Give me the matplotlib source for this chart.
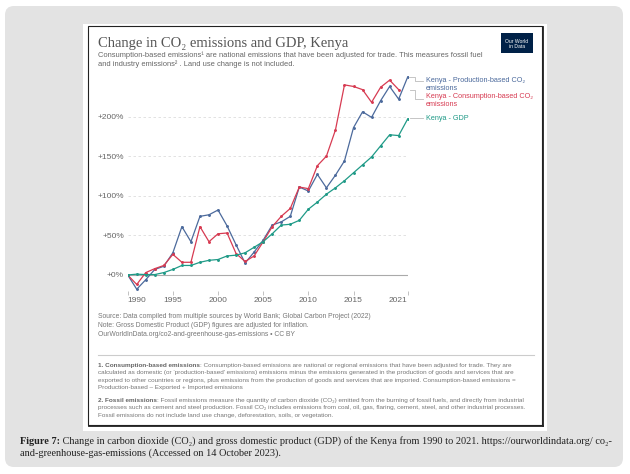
#!/usr/bin/env python3
import matplotlib

matplotlib.use("Agg")
import matplotlib.pyplot as plt
from matplotlib.patches import FancyBboxPatch, Rectangle

years = list(range(1990, 2022))

# percent change since 1990
production = [0, -18, -6, 7, 11, 28, 61, 42, 74, 76, 82, 62, 38, 15, 29, 44,
              63, 67, 74, 111, 106, 127, 110, 126, 144, 186, 206, 199, 220,
              238, 222, 250]
consumption = [0, -12, 3, 8, 12, 26, 16, 16, 61, 42, 52, 53, 27, 17, 24, 42,
               61, 74, 84, 111, 109, 138, 150, 183, 240, 238, 234, 218, 237,
               246, 234]
gdp = [0, 1, 0.5, 0.5, 3, 7, 12, 12, 16, 18.5, 19.5, 24, 25, 28, 35, 42, 52,
       63, 64, 69, 83, 92, 102, 110, 119, 129, 139, 149, 163, 177, 176, 197]

series_names = [
    "Kenya - Production-based CO\u2082\nemissions",
    "Kenya - Consumption-based CO\u2082\nemissions",
    "Kenya - GDP",
]
colors = ["#4c6a9c", "#d73b52", "#1f9a87"]

xticks = [1990, 1995, 2000, 2005, 2010, 2015, 2021]
yticks = [0, 50, 100, 150, 200]

W, H = 630, 474
SANS = "Liberation Sans"
SERIF = "Liberation Serif"


def fx(x):
    return x / W


def fy(y):
    return 1 - y / H


fig = plt.figure(figsize=(W / 100, H / 100), dpi=100)

# background layer, in pixel coordinates
bg = fig.add_axes([0, 0, 1, 1])
bg.set_xlim(0, W)
bg.set_ylim(H, 0)
bg.axis("off")
bg.set_zorder(0)
bg.add_patch(FancyBboxPatch((5, 6), 618, 461,
                            boxstyle="round,pad=0,rounding_size=9",
                            fc="#e3e3e3", ec="none"))
bg.add_patch(Rectangle((83, 24), 464, 407, fc="white", ec="none"))
bg.add_patch(Rectangle((88, 26), 454, 399, fc="none", ec="#222222", lw=0.8))
bg.plot([542.5, 542.5], [27, 426], color="#222222", lw=1.3)
bg.plot([89, 543], [425.5, 425.5], color="#222222", lw=1.3)

# title + subtitle
bg.text(98, 47, "Change in CO\u2082 emissions and GDP, Kenya",
        family=SERIF, fontsize=10.5, color="#555555", va="baseline")
bg.text(98, 55,
        "Consumption-based emissions\u00b9 are national emissions that have been "
        "adjusted for trade. This measures fossil fuel",
        family=SANS, fontsize=5.45, color="#666666", va="center")
bg.text(98, 64,
        "and industry emissions\u00b2 . Land use change is not included.",
        family=SANS, fontsize=5.45, color="#666666", va="center")

# logo
bg.add_patch(Rectangle((501, 33), 32, 20, fc="#002147", ec="none"))
bg.text(517, 43.5, "Our World\nin Data", family=SANS, fontsize=3.6,
        color="white", ha="center", va="center", linespacing=1.0)

# chart
ax = fig.add_axes([fx(127.7), fy(290.8), 280 / W, 217.8 / H])
ax.set_zorder(2)
ax.patch.set_alpha(0)
ax.plot(years, production, color=colors[0], lw=0.9, marker="o", ms=1.1)
ax.plot(years[:len(consumption)], consumption, color=colors[1], lw=0.9,
        marker="o", ms=1.1)
ax.plot(years, gdp, color=colors[2], lw=0.9, marker="o", ms=1.1)
ax.set_xlim(1990, 2021)
ax.set_ylim(-20, 255)
for s in ax.spines.values():
    s.set_visible(False)
ax.axhline(0, color="#aaaaaa", lw=0.8, zorder=0)
for v in yticks[1:]:
    ax.axhline(v, color="#dddddd", lw=0.6, ls=(0, (3, 3)), zorder=0)
ax.set_yticks(yticks)
ax.set_yticklabels(["+%d%%" % v for v in yticks])
ax.set_xticks(xticks)
ax.set_xticklabels([str(v) for v in xticks])
ax.tick_params(axis="y", length=0, pad=2.7, labelsize=6, labelcolor="#666666")
ax.tick_params(axis="x", length=3, width=0.5, color="#aaaaaa", pad=1.5,
               labelsize=6, labelcolor="#666666")
for lbl in ax.get_xticklabels() + ax.get_yticklabels():
    lbl.set_family(SANS)
ax.get_xticklabels()[0].set_ha("left")
ax.get_xticklabels()[-1].set_ha("right")

# line labels with connectors
conn = [
    [(408.5, 77), (415, 77), (415, 80.5), (423, 80.5)],
    [(410, 89.5), (415, 89.5), (415, 98.5), (423, 98.5)],
    [(409.5, 118), (423, 118)],
]
label_y = [84.5, 100.5, 118]
for pts, ly, name, c in zip(conn, label_y, series_names, colors):
    bg.plot([p[0] for p in pts], [p[1] for p in pts], color="#bbbbbb", lw=0.6)
    bg.text(426, ly, name, family=SANS, fontsize=5.2, color=c,
            va="center", linespacing=1.05)

# sources
src = [
    "Source: Data compiled from multiple sources by World Bank; Global Carbon Project (2022)",
    "Note: Gross Domestic Product (GDP) figures are adjusted for inflation.",
    "OurWorldInData.org/co2-and-greenhouse-gas-emissions \u2022 CC BY",
]
for i, s in enumerate(src):
    bg.text(98, 317 + 8.6 * i, s, family=SANS, fontsize=4.85,
            color="#777777", va="center")

bg.plot([98, 534], [355, 355], color="#cccccc", lw=0.8)


def note(y, bold, lines):
    t = bg.text(98, y, bold, family=SANS, fontsize=4.6,
                color="#666666", weight="bold", va="bottom")
    bg.annotate(lines[0], xy=(1, 0), xycoords=t, va="bottom", ha="left",
                family=SANS, fontsize=4.6, color="#777777")
    for i, ln in enumerate(lines[1:]):
        bg.text(98, y + 7.4 * (i + 1), ln, family=SANS, fontsize=4.6,
                color="#777777", va="bottom")


note(368, "1. Consumption-based emissions",
     [": Consumption-based emissions are national or regional emissions that "
      "have been adjusted for trade. They are",
      "calculated as domestic (or \u2018production-based\u2019 emissions) emissions "
      "minus the emissions generated in the production of goods and services that are",
      "exported to other countries or regions, plus emissions from the production "
      "of goods and services that are imported. Consumption-based emissions =",
      "Production-based \u2013 Exported + Imported emissions"])
note(403, "2. Fossil emissions",
     [": Fossil emissions measure the quantity of carbon dioxide (CO\u2082) emitted "
      "from the burning of fossil fuels, and directly from industrial",
      "processes such as cement and steel production. Fossil CO\u2082 includes "
      "emissions from coal, oil, gas, flaring, cement, steel, and other industrial processes.",
      "Fossil emissions do not include land use change, deforestation, soils, "
      "or vegetation."])

# caption
cap = bg.text(20, 446, "Figure 7:", family=SERIF, fontsize=7.35,
              weight="bold", color="#222222", va="bottom")
bg.annotate(" Change in carbon dioxide (CO\u2082) and gross domestic product (GDP) "
            "of the Kenya from 1990 to 2021. https://ourworldindata.org/ co\u2082-",
            xy=(1, 0), xycoords=cap, va="bottom", ha="left", family=SERIF,
            fontsize=7.35, color="#222222")
bg.text(20, 457.5,
        "and-greenhouse-gas-emissions (Accessed on 14 October 2023).",
        family=SERIF, fontsize=7.35, color="#222222", va="bottom")

fig.savefig("out.png", dpi=100)
